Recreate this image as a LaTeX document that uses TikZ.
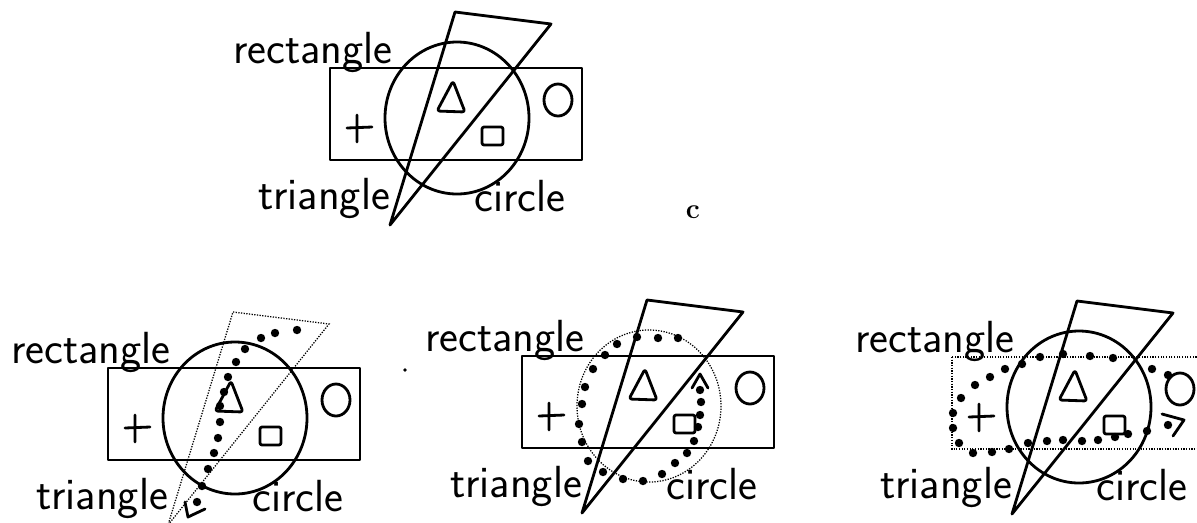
\documentclass[tikz,border=0pt]{standalone}
\usetikzlibrary{calc}
\tikzset{
  outline/.style={line width=2pt, line join=round, line cap=round},
  faint/.style={line width=0.9pt, densely dotted},
  bigdot/.style={fill=black},
  handtext/.style={font=\sffamily\fontsize{32}{34}\selectfont, inner sep=0pt, anchor=base},
  tag/.style={font=\bfseries\fontsize{20}{24}\selectfont, inner sep=0pt}
}
% one copy of the drawing: styles of rectangle, triangle, circle
\newcommand{\venn}[3]{%
  \draw[#1] (0,0) rectangle (252,92);
  \draw[#2] (125,-56) -- (221,-44) -- (60,157) -- cycle;
  \draw[#3] (127,50) ellipse [x radius=72, y radius=76];
  \draw[outline, rounded corners=2pt] (123,13) -- (135,44) -- (107,43) -- cycle;
  \draw[outline, rounded corners=1.5pt] (152,59) rectangle (173,77);
  \draw[outline] (228,32) ellipse [x radius=14, y radius=16];
  \draw[outline] (17,60) -- (42,59) (27,47) -- (27,74);
  \node[handtext] (rectlabel) at (-17,-5) {rectangle};
  \node[handtext] (trilabel) at (-6,141) {triangle};
  \node[handtext] (circlabel) at (190,143) {circle};
}

\begin{document}
\begin{tikzpicture}[x=0.025cm, y=-0.025cm]
  \useasboundingbox (0,0) rectangle (1197,522);
  \clip (0,0) rectangle (1197,522);

  % top: all outlines solid
  \begin{scope}[shift={(330,68)}, name prefix=top-]
    \venn{outline}{outline}{outline}
  \end{scope}
  \node[tag] (c) at (693,212) {c};

  % bottom left: triangle traced
  \begin{scope}[shift={(108,368)}, name prefix=left-]
    \venn{outline}{faint}{outline}
  \end{scope}
  \foreach \p in {(297,330),(275,333),(261,338),(245,349),(236,362),(228,377),(224,392),
    (220,406),(220,422),(218,438),(214,453),(208,469),(202,486),(197,502)}
    \fill[bigdot] \p circle [radius=4.2];
  \draw[outline] (185,502) -- (188,517) -- (205,509);

  % bottom middle: circle traced
  \begin{scope}[shift={(522,356)}, name prefix=mid-]
    \venn{outline}{outline}{faint}
  \end{scope}
  \foreach \p in {(678,338),(658,338),(637,337),(617,344),(605,355),(593,369),(585,387),
    (582,404),(579,424),(582,442),(588,461),(603,472),(623,479),(643,481),(662,474),
    (675,463),(687,453),(694,441),(698,427),(700,415),(701,402),(700,390)}
    \fill[bigdot] \p circle [radius=4.2];
  \draw[outline] (692,388) -- (700,374) -- (708,388);
  \fill[bigdot] (405,370) circle [radius=1.8];

  % bottom right: rectangle traced
  \begin{scope}[shift={(952,357)}, name prefix=right-]
    \venn{faint}{outline}{outline}
  \end{scope}
  \foreach \p in {(1168,375),(1152,369),(1113,358),(1090,356),(1063,354),(1040,357),
    (1022,364),(1005,369),(990,377),(975,385),(961,398),(953,413),(953,428),(959,443),
    (973,453),(992,452),(1009,449),(1028,443),(1047,441),(1063,440),(1082,441),
    (1098,440),(1115,437),(1128,434),(1147,431),(1168,425)}
    \fill[bigdot] \p circle [radius=4.2];
  \draw[outline] (1162,414) -- (1184,420) -- (1173,436);
\end{tikzpicture}
\end{document}
